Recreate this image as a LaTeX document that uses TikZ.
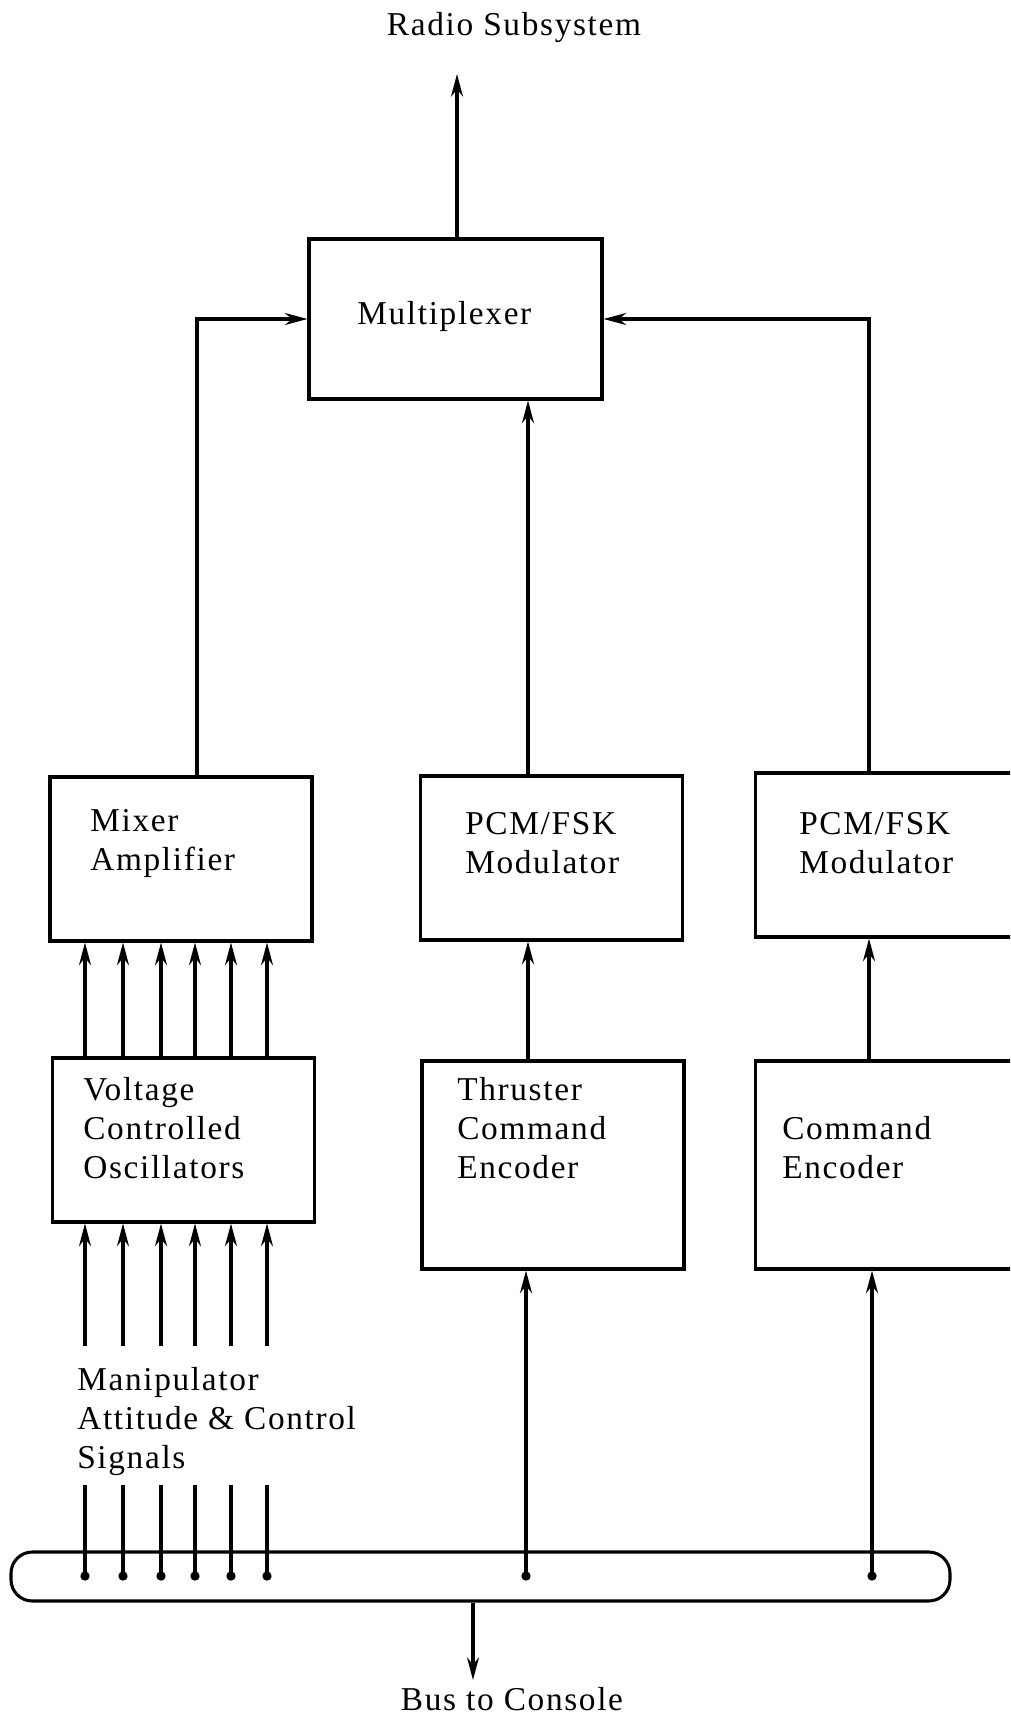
\documentclass[tikz,border=0pt]{standalone}
\usepackage{fontspec}
\setmainfont{Liberation Serif}[LetterSpace=5]
\usetikzlibrary{positioning}
\usetikzlibrary{arrows.meta}

\begin{document}
\begin{tikzpicture}[x=0.75pt, y=-0.75pt,
    box/.style={draw, line width=2.3pt, inner sep=0pt, minimum width=196.5pt, minimum height=123pt},
    arr/.style={line width=2.3pt, -{Stealth[length=17pt, width=9pt]}},
    sig/.style={line width=2.3pt},
    lbl/.style={anchor=west, align=left, inner sep=0pt, font=\fontsize{25}{29.25}\selectfont},
    dot/.style={circle, fill, inner sep=0pt, minimum size=7pt}]
    \fill[white] (0,0) rectangle (1010,1716);
    \useasboundingbox (0,0) rectangle (1010,1716);
    \clip (0,0) rectangle (1010,1716);

    % Blocks
    \node[box, minimum width=219.75pt, minimum height=120pt] (mux) at (455.5,319) {};
    \node[box] (mix) at (181,859) {};
    \node[box] (pcma) at (551.5,858) {};
    \node[box] (pcmb) at (886.5,855) {};
    \node[box] (vco) at (183.5,1140) {};
    \node[box, minimum height=156pt] (tce) at (553,1165) {};
    \node[box, minimum height=156pt] (ce) at (886.5,1165) {};
    \node[draw, line width=2.3pt, rounded corners=16pt, inner sep=0pt,
          minimum width=704.25pt, minimum height=36.75pt] (bus) at (480.5,1576.5) {};

    % Texts
    \node[lbl] (muxt) at (357,316) {Multiplexer};
    \node[lbl] (mixt) at (90,843.5) {Mixer\\Amplifier};
    \node[lbl] (pcmat) at (465,843.5) {PCM/FSK\\Modulator};
    \node[lbl] (pcmbt) at (799,843.5) {PCM/FSK\\Modulator};
    \node[lbl] (vcot) at (83,1128) {Voltage\\Controlled\\Oscillators};
    \node[lbl] (tcet) at (457,1128) {Thruster\\Command\\Encoder};
    \node[lbl] (cet) at (782,1148) {Command\\Encoder};
    \node[lbl] (mant) at (77,1422) {Manipulator\\Attitude \& Control\\Signals};
    \node[lbl, anchor=center] (radiot) at (514,28) {Radio Subsystem};
    \node[lbl, anchor=center] (cont) at (512,1699) {Bus to Console};

    % Columns
    \coordinate (colA) at (197,0);
    \coordinate (colB) at (528,0);
    \coordinate (colC) at (869,0);
    \coordinate (radio) at (457,74);
    \coordinate (con) at (473,1680);

    % To the multiplexer
    \draw[arr] (mux.north -| radio) -- (radio);
    \draw[arr] (mix.north -| colA) |- (mux.west);
    \draw[arr] (pcma.north -| colB) -- (mux.south -| colB);
    \draw[arr] (pcmb.north -| colC) |- (mux.east);

    % Encoders to modulators
    \draw[arr] (tce.north -| colB) -- (pcma.south -| colB);
    \draw[arr] (ce.north -| colC) -- (pcmb.south -| colC);

    % Signal lines
    \foreach \i/\xx in {1/85,2/123,3/161,4/195,5/231,6/267} {
        \coordinate (in\i) at (\xx,1346);
        \coordinate (sg\i) at (\xx,1485);
        \node[dot] (bd\i) at (\xx,1576) {};
        \draw[sig] (sg\i) -- (bd\i.center);
        \draw[arr] (in\i) -- (vco.south -| in\i);
        \draw[arr] (vco.north -| in\i) -- (mix.south -| in\i);
    }

    % Bus
    \node[dot] (bdB) at (526,1576) {};
    \node[dot] (bdC) at (872,1576) {};
    \draw[arr] (bdB.center) -- (tce.south -| bdB);
    \draw[arr] (bdC.center) -- (ce.south -| bdC);
    \draw[arr] (bus.south -| con) -- (con);
\end{tikzpicture}
\end{document}
